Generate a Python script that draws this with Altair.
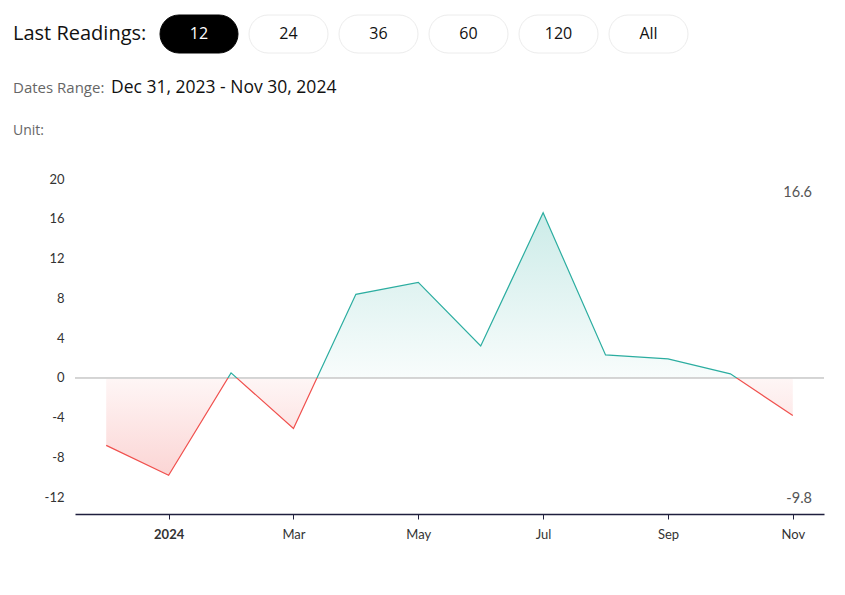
import altair as alt
import pandas as pd

# ---- data ----
months = ["2023-12", "2024-01", "2024-02", "2024-03", "2024-04", "2024-05",
          "2024-06", "2024-07", "2024-08", "2024-09", "2024-10", "2024-11"]
values = [-6.8, -9.8, 0.5, -5.1, 8.4, 9.6, 3.2, 16.6, 2.3, 1.9, 0.4, -3.8]
tick_months = ["2024-01", "2024-03", "2024-05", "2024-07", "2024-09", "2024-11"]
y_ticks = [20, 16, 12, 8, 4, 0, -4, -8, -12]
buttons = ["12", "24", "36", "60", "120", "All"]
date_range = "Dec 31, 2023 - Nov 30, 2024"

df = pd.DataFrame({"month": months, "value": values})
one = pd.DataFrame({"k": [0]})

GREEN = "#2bada0"
RED = "#f0504d"
vmax, vmin = max(values), min(values)
z = vmax / (vmax - vmin)

line_grad = alt.LinearGradient(
    gradient="linear", x1=0, x2=0, y1=0, y2=1,
    stops=[alt.GradientStop(offset=0, color=GREEN),
           alt.GradientStop(offset=z, color=GREEN),
           alt.GradientStop(offset=z, color=RED),
           alt.GradientStop(offset=1, color=RED)])
fill_grad = alt.LinearGradient(
    gradient="linear", x1=0, x2=0, y1=0, y2=1,
    stops=[alt.GradientStop(offset=0, color="rgba(43,173,160,0.24)"),
           alt.GradientStop(offset=z, color="rgba(43,173,160,0.03)"),
           alt.GradientStop(offset=z, color="rgba(240,80,77,0.05)"),
           alt.GradientStop(offset=1, color="rgba(240,80,77,0.24)")])

AXFONT = "Lato"
HFONT = "Open Sans"

x_enc = alt.X("month:O", sort=months, scale=alt.Scale(type="point", padding=0.5),
              axis=alt.Axis(title=None, values=tick_months, labelAngle=0,
                            labelExpr="datum.value == '2024-01' ? '2024' : utcFormat(toDate(datum.value + '-01'), '%b')",
                            labelFontWeight={"condition": {"test": "datum.value == '2024-01'", "value": "bold"}, "value": "normal"},
                            labelFont=AXFONT, labelFontSize=13, labelColor="#333",
                            labelPadding=9, domainColor="#1f1f3d", domainWidth=1.5,
                            tickColor="#1f1f3d", tickSize=5, grid=False))
y_scale = alt.Scale(domain=[-13.7, 20], nice=False, zero=False)
y_enc = alt.Y("value:Q", scale=y_scale,
              axis=alt.Axis(title=None, values=y_ticks, grid=False, domain=False,
                            ticks=False, labelFont=AXFONT, labelFontSize=13,
                            labelExpr="'' + datum.value",
                            labelColor="#333", labelPadding=11))

base = alt.Chart(df)
area = base.mark_area(fill=fill_grad).encode(x=x_enc, y=y_enc, y2=alt.datum(0))
zero = base.mark_rule(color="#d4d4d4", strokeWidth=1).encode(y=alt.datum(0))
line = base.mark_line(stroke=line_grad, strokeWidth=1.2).encode(x=x_enc, y=y_enc)

max_t = base.transform_aggregate(mx="max(value)").transform_calculate(
    tx="replace(format(datum.mx, '.1f'), '\u2212', '-')"
).mark_text(align="right", baseline="middle", font=AXFONT, fontSize=14.5, color="#555"
            ).encode(text="tx:N", x=alt.value(737), y=alt.value(14))
min_t = base.transform_aggregate(mn="min(value)").transform_calculate(
    tn="replace(format(datum.mn, '.1f'), '\u2212', '-')"
).mark_text(align="right", baseline="middle", font=AXFONT, fontSize=14.5, color="#555"
            ).encode(text="tn:N", x=alt.value(737), y=alt.value(320))

layers = [area, zero, line, max_t, min_t]

# ---- header ----
hb = alt.Chart(one)
layers.append(hb.mark_text(text="Last Readings:", align="left", baseline="middle",
                           font=HFONT, fontSize=20, color="#111")
              .encode(x=alt.value(-62), y=alt.value(-145)))
btn_x = [160, 249, 339, 429, 519, 609]
for i, lab in enumerate(buttons):
    x0 = btn_x[i] - 75
    w = 78 if i == 0 else 79
    active = i == 0
    layers.append(hb.mark_rect(cornerRadius=19, fill="#000" if active else "#fff",
                               stroke="#000" if active else "#ececec", strokeWidth=1)
                  .encode(x=alt.value(x0), x2=alt.value(x0 + w),
                          y=alt.value(-164), y2=alt.value(-126)))
    layers.append(hb.mark_text(text=lab, align="center", baseline="middle",
                               font=HFONT, fontSize=16,
                               color="#fff" if active else "#111")
                  .encode(x=alt.value(x0 + w / 2), y=alt.value(-145)))
layers.append(hb.mark_text(text="Dates Range:", align="left", baseline="middle",
                           font=HFONT, fontSize=15, color="#666")
              .encode(x=alt.value(-62), y=alt.value(-91)))
layers.append(hb.mark_text(text=date_range, align="left", baseline="middle",
                           font=HFONT, fontSize=17.5, color="#111")
              .encode(x=alt.value(36), y=alt.value(-91)))
layers.append(hb.mark_text(text="Unit:", align="left", baseline="middle",
                           font=HFONT, fontSize=14, color="#666")
              .encode(x=alt.value(-62), y=alt.value(-48)))

chart = alt.layer(*layers).properties(
    width=749, height=335,
    background="white",
    autosize=alt.AutoSizeParams(type="none"),
    padding={"left": 67, "top": 171, "right": 5, "bottom": 60},
).configure_view(strokeWidth=0, stroke="transparent")

chart.save("out.html", embed_options={"renderer": "svg", "actions": False})
